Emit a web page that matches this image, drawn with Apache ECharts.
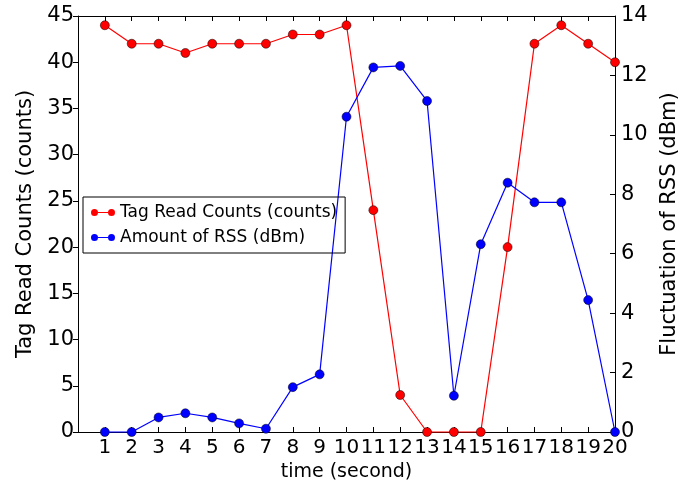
<!DOCTYPE html>
<html>
<head>
<meta charset="utf-8">
<script src="https://cdn.jsdelivr.net/npm/echarts@6/dist/echarts.min.js"></script>
<style>html,body{margin:0;padding:0;background:#fff;}#c{width:694px;height:488px;}</style>
</head>
<body>
<div id="c"></div>
<script>
const times = [1,2,3,4,5,6,7,8,9,10,11,12,13,14,15,16,17,18,19,20];
const readCounts = [44,42,42,41,42,42,42,43,43,44,24,4,0,0,0,20,42,44,42,40];
const rssValues = [0,0,0.49,0.63,0.49,0.29,0.11,1.51,1.94,10.61,12.27,12.32,11.14,1.22,6.32,8.39,7.73,7.73,4.44,0];
const leftTicks = {min:0, max:45, interval:5};
const rightTicks = {min:0, max:14, interval:2};
const FONT = 'DejaVu Sans';

const chart = echarts.init(document.getElementById('c'), null, {renderer:'canvas'});
const legendIcon = 'path://M0,4 A3.5,3.5 0 1,1 7,4 A3.5,3.5 0 1,1 0,4 Z M7,3.4 L17,3.4 L17,4.6 L7,4.6 Z M17,4 A3.5,3.5 0 1,1 24,4 A3.5,3.5 0 1,1 17,4 Z';
const axisCommon = {
  axisLine:{show:true, onZero:false, lineStyle:{color:'#000', width:1}},
  splitLine:{show:false}
};
chart.setOption({
  animation:false,
  backgroundColor:'#fff',
  textStyle:{fontFamily:FONT},
  grid:{left:78, right:79, top:16, bottom:56, containLabel:false},
  legend:{
    left:83, top:197, orient:'vertical',
    borderColor:'#000', borderWidth:1, borderRadius:0,
    padding:[7,8,7,8], itemGap:8, itemWidth:24, itemHeight:8,
    textStyle:{fontFamily:FONT, fontSize:17, color:'#000'},
    data:[
      {name:'Tag Read Counts (counts)', icon:legendIcon, itemStyle:{borderWidth:0}},
      {name:'Amount of RSS (dBm)', icon:legendIcon, itemStyle:{borderWidth:0}}
    ]
  },
  xAxis:[
    Object.assign({}, axisCommon, {
      type:'value', min:0, max:20, interval:1, position:'bottom',
      name:'time (second)', nameLocation:'middle', nameGap:31,
      nameTextStyle:{fontFamily:FONT, fontSize:19, color:'#000'},
      axisTick:{show:true, inside:true, length:5, lineStyle:{color:'#000'}},
      axisLabel:{fontFamily:FONT, fontSize:20, color:'#000', margin:6,
        formatter:v => (v===0 ? '' : String(v))}
    }),
    Object.assign({}, axisCommon, {
      type:'value', min:0, max:20, interval:1, position:'top',
      axisTick:{show:true, inside:true, length:5, lineStyle:{color:'#000'}},
      axisLabel:{show:false}
    })
  ],
  yAxis:[
    Object.assign({}, axisCommon, {
      type:'value', position:'left', min:leftTicks.min, max:leftTicks.max, interval:leftTicks.interval,
      name:'Tag Read Counts (counts)', nameLocation:'middle', nameGap:41, nameRotate:90,
      nameTextStyle:{fontFamily:FONT, fontSize:21, color:'#000'},
      axisTick:{show:true, inside:false, length:5, lineStyle:{color:'#000'}},
      axisLabel:{fontFamily:FONT, fontSize:21, color:'#000', margin:4}
    }),
    Object.assign({}, axisCommon, {
      type:'value', position:'right', min:rightTicks.min, max:rightTicks.max, interval:rightTicks.interval,
      name:'Fluctuation of RSS (dBm)', nameLocation:'middle', nameGap:36, nameRotate:90,
      nameTextStyle:{fontFamily:FONT, fontSize:21, color:'#000'},
      axisTick:{show:true, inside:true, length:5, lineStyle:{color:'#000'}},
      axisLabel:{fontFamily:FONT, fontSize:21, color:'#000', margin:6}
    })
  ],
  series:[
    {
      name:'Tag Read Counts (counts)', type:'line', xAxisIndex:0, yAxisIndex:0,
      data:times.map((t,i)=>[t, readCounts[i]]),
      symbol:'circle', symbolSize:9, showAllSymbol:true, clip:false,
      lineStyle:{color:'#ff0000', width:1.2},
      itemStyle:{color:'#ff0000', borderColor:'#000', borderWidth:0.5},
      z:3
    },
    {
      name:'Amount of RSS (dBm)', type:'line', xAxisIndex:0, yAxisIndex:1,
      data:times.map((t,i)=>[t, rssValues[i]]),
      symbol:'circle', symbolSize:9, showAllSymbol:true, clip:false,
      lineStyle:{color:'#0000ff', width:1.2},
      itemStyle:{color:'#0000ff', borderColor:'#000', borderWidth:0.5},
      z:3
    }
  ]
});
</script>
</body>
</html>
